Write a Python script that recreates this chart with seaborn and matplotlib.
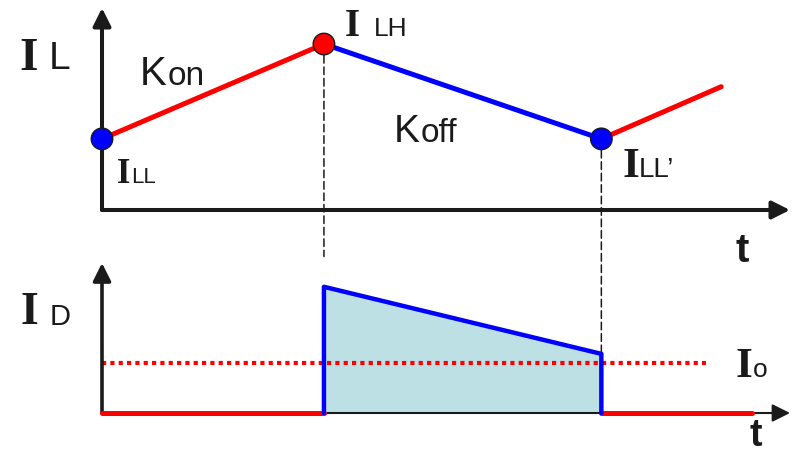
import numpy as np
import pandas as pd
import matplotlib.pyplot as plt
import seaborn as sns
from matplotlib.patches import ConnectionPatch

sns.set_theme(style='white')
plt.rcParams['font.family'] = ['Liberation Sans', 'DejaVu Sans']

# 电感电流 I_L：上升(Kon)、下降(Koff)、再上升
t_il = [0.0, 1.0, 2.25, 2.79]
i_l = [0.75, 1.75, 0.75, 1.30]
seg_names = ['on', 'off', 'on2']
seg_colors = {'on': '#ff0000', 'off': '#0000ff', 'on2': '#ff0000'}
# 标记点：I_LL、I_LH、I_LL'
mark_t = [0.0, 1.0, 2.25]
mark_i = [0.75, 1.75, 0.75]
mark_colors = ['#0000ff', '#ff0000', '#0000ff']

# 二极管电流 I_D
t_id = [1.0, 1.0, 2.25, 2.25]
i_d = [0.0, 1.75, 0.82, 0.0]
t_zero1 = [0.0, 1.0]
t_zero2 = [2.25, 2.93]
io_level = 0.69
t_io = [0.0, 2.72]

W, H = 798, 455
fig = plt.figure(figsize=(W / 100, H / 100), dpi=100)
ax1 = fig.add_axes([102 / W, (H - 210) / H, 688 / W, 202 / H])
ax2 = fig.add_axes([102 / W, (H - 413) / H, 688 / W, 150 / H])
ax1.set_xlim(0, 3.1)
ax1.set_ylim(0, 2.13)
ax2.set_xlim(0, 3.1)
ax2.set_ylim(0, 2.08)
for ax in (ax1, ax2):
    ax.axis('off')

# 坐标轴箭头
arrow = '-|>,head_length=0.6,head_width=0.3'
ax1.annotate('', xy=(1, 0), xytext=(0, 0), xycoords='axes fraction',
             arrowprops=dict(arrowstyle=arrow, lw=2.9, color='k', mutation_scale=18,
                             shrinkA=0, shrinkB=0))
ax1.annotate('', xy=(0, 1), xytext=(0, 0), xycoords='axes fraction',
             arrowprops=dict(arrowstyle=arrow, lw=2.9, color='k', mutation_scale=18,
                             shrinkA=0, shrinkB=0))
ax2.annotate('', xy=(1, 0), xytext=(0, 0), xycoords='axes fraction',
             arrowprops=dict(arrowstyle=arrow, lw=1.5, color='k', mutation_scale=18,
                             shrinkA=0, shrinkB=0))
ax2.annotate('', xy=(0, 1), xytext=(0, 0), xycoords='axes fraction',
             arrowprops=dict(arrowstyle=arrow, lw=2.6, color='k', mutation_scale=18,
                             shrinkA=0, shrinkB=0))

# 上图折线
rows = []
for k, name in enumerate(seg_names):
    for j in (k, k + 1):
        rows.append({'t': t_il[j], 'i': i_l[j], 'seg': name})
df_il = pd.DataFrame(rows)
sns.lineplot(data=df_il, x='t', y='i', hue='seg', palette=seg_colors, sort=False,
             estimator=None, legend=False, lw=3.6, ax=ax1, clip_on=False, zorder=3)
sns.scatterplot(x=mark_t, y=mark_i, hue=[str(v) for v in range(3)],
                palette=dict(zip([str(v) for v in range(3)], mark_colors)),
                s=240, edgecolor='k', linewidth=1, legend=False, ax=ax1,
                clip_on=False, zorder=5)

# 下图
ax2.fill_between(t_id[1:3], [0, 0], i_d[1:3], color='#bce0e3', lw=0, zorder=1)
sns.lineplot(x=t_io, y=[io_level, io_level], color='#ff0000', lw=3,
             linestyle=(0, (1, 1)), ax=ax2, zorder=2)
df_id = pd.DataFrame({'t': t_id, 'i': i_d})
sns.lineplot(data=df_id, x='t', y='i', sort=False, estimator=None, color='#0000ff',
             lw=3.2, ax=ax2, clip_on=False, zorder=4)
for tz in (t_zero1, t_zero2):
    sns.lineplot(x=tz, y=[0, 0], color='#ff0000', lw=3.6, ax=ax2, clip_on=False, zorder=3)

# 虚线
for (ta, ia), (tb, ib) in [((t_il[1], i_l[1]), (t_id[0], 2.17)),
                           ((t_il[2], i_l[2]), (t_id[2], i_d[2]))]:
    con = ConnectionPatch(xyA=(ta, ia), coordsA=ax1.transData,
                          xyB=(tb, ib), coordsB=ax2.transData,
                          color='k', lw=1.1, linestyle=(0, (5, 2.5)), zorder=-1)
    fig.add_artist(con)


def put(x, y, s, size, serif=False, ha='left', bold=False):
    fig.text(x / W, 1 - y / H, s, fontsize=size, va='baseline', ha=ha,
             family='Liberation Serif' if serif else 'Liberation Sans',
             weight='bold' if (serif or bold) else 'normal', color='k')


put(29, 70, 'I', 34, serif=True, ha='center'); put(49, 69, 'L', 28)
put(140, 85, 'K', 29); put(168, 85, 'on', 24)
put(124, 183, 'I', 25, serif=True, ha='center'); put(131, 183, 'LL', 16)
put(352, 36, 'I', 28, serif=True, ha='center'); put(374, 36, 'LH', 19)
put(394, 142, 'K', 28); put(421, 142, 'off', 24)
put(631, 177, 'I', 31, serif=True, ha='center'); put(639, 177, 'LL\u2019', 20)
put(736, 262, 't', 29, bold=True)
put(29, 324, 'I', 33, serif=True, ha='center'); put(50, 325, 'D', 21)
put(744, 377, 'I', 31, serif=True, ha='center'); put(753, 377, 'o', 19)
put(750, 446, 't', 27, bold=True)

fig.savefig('out.png', dpi=100)
